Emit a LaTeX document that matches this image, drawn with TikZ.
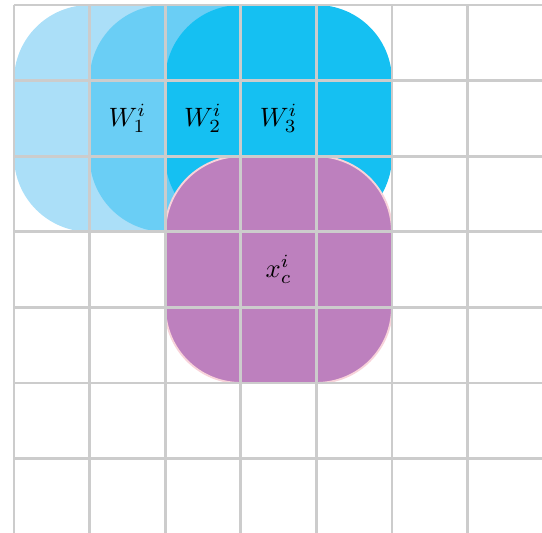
\documentclass[tikz,border=0pt]{standalone}
\definecolor{lightb}{HTML}{ABDFF8}
\definecolor{midb}{HTML}{6ACEF5}
\definecolor{cyanb}{HTML}{15C0F2}
\definecolor{purp}{HTML}{BD80BE}
\definecolor{pinkb}{HTML}{F8D3DA}
\definecolor{gridc}{HTML}{CCCCCC}
\tikzset{
  blob/.style={rounded corners=1cm},
  gridline/.style={draw=gridc, line width=1.1pt},
  lbl/.style={inner sep=0pt}
}
\begin{document}
\begin{tikzpicture}
\useasboundingbox (-0.185,0.066) rectangle (6.984,-6.984);
\clip (-0.185,0.066) rectangle (6.984,-6.984);
\fill[lightb, blob] (0,0) rectangle (3,-3);
\fill[midb, blob] (1,0) rectangle (4,-3);
\fill[cyanb, blob] (2,0) rectangle (5,-3);
\filldraw[fill=purp, draw=pinkb, line width=0.7pt, blob] (2,-2) rectangle (5,-5);
\draw[gridline] (0,0) grid (7.5,-7.5);
\node[lbl] (w1) at (1.5,-1.5) {$W_1^i$};
\node[lbl] (w2) at (2.5,-1.5) {$W_2^i$};
\node[lbl] (w3) at (3.5,-1.5) {$W_3^i$};
\node[lbl] (xc) at (3.5,-3.5) {$x_c^i$};
\end{tikzpicture}
\end{document}
